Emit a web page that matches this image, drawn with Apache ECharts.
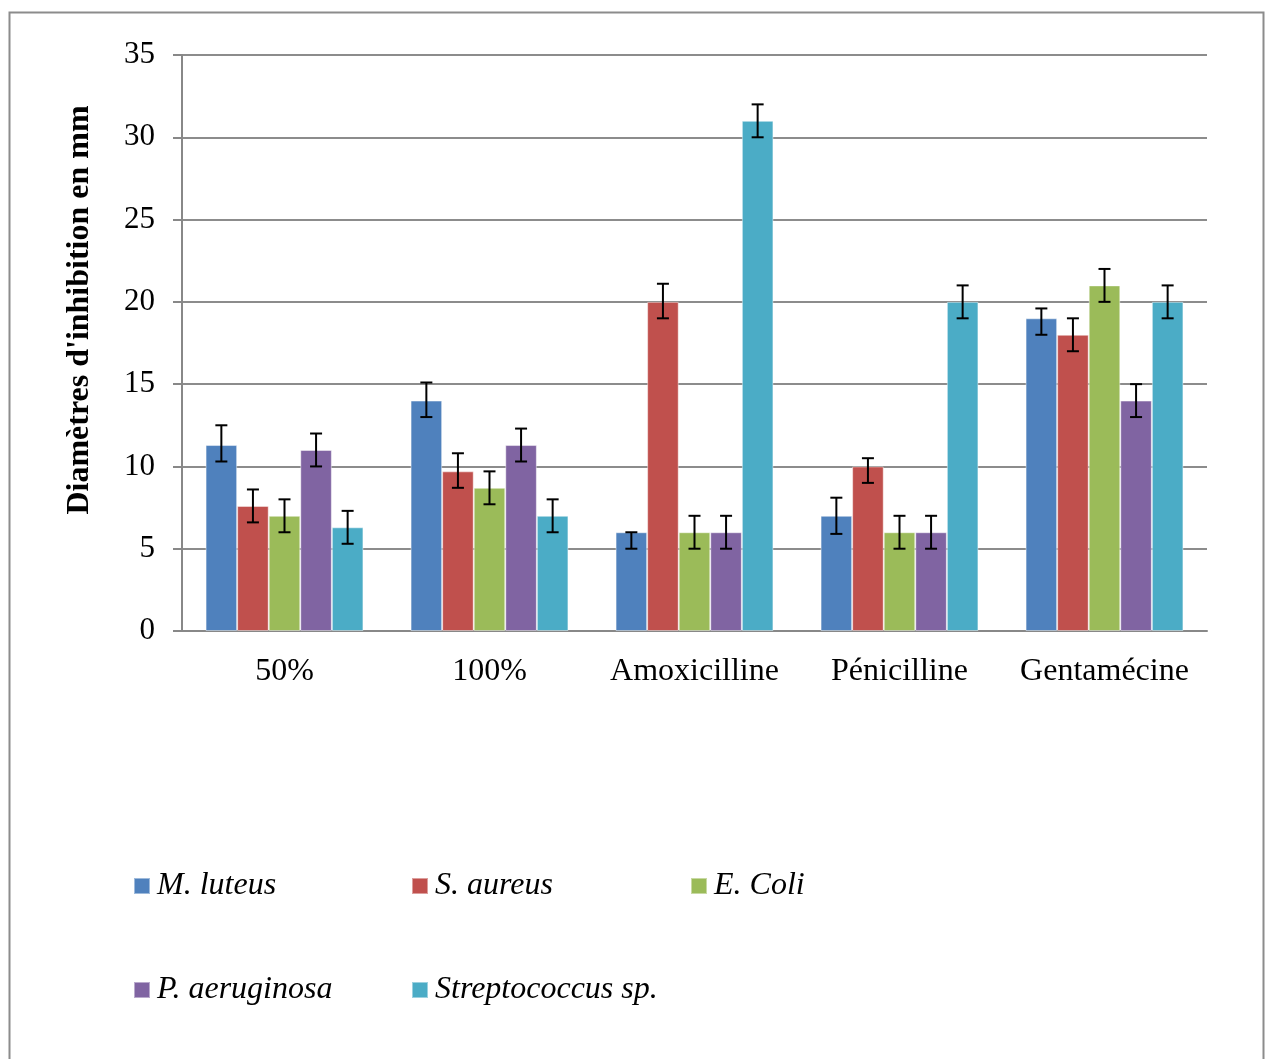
<!DOCTYPE html>
<html>
<head>
<meta charset="utf-8">
<script src="https://cdn.jsdelivr.net/npm/echarts@6/dist/echarts.min.js"></script>
<style>
  html, body { margin: 0; padding: 0; background: #fff; }
  #chart { width: 1265px; height: 1059px; }
</style>
</head>
<body>
<div id="chart"></div>
<script>
// Inhibition diameters (mm) per treatment and bacterial strain
const categories = ['50%', '100%', 'Amoxicilline', 'Pénicilline', 'Gentamécine'];
const seriesNames = ['M. luteus', 'S. aureus', 'E. Coli', 'P. aeruginosa', 'Streptococcus sp.'];

const mLuteus      = [11.3, 14.0, 6.0, 7.0, 19.0];
const sAureus      = [7.6, 9.7, 20.0, 10.0, 18.0];
const eColi        = [7.0, 8.7, 6.0, 6.0, 21.0];
const pAeruginosa  = [11.0, 11.3, 6.0, 6.0, 14.0];
const streptococcus = [6.3, 7.0, 31.0, 20.0, 20.0];

// Error bar extents above / below each mean
const mLuteusErrUp   = [1.2, 1.1, 0.0, 1.1, 0.6];
const mLuteusErrDown = [1.0, 1.0, 1.0, 1.1, 1.0];
const sAureusErrUp   = [1.0, 1.1, 1.1, 0.5, 1.0];
const sAureusErrDown = [1.0, 1.0, 1.0, 1.0, 1.0];
const eColiErrUp     = [1.0, 1.0, 1.0, 1.0, 1.0];
const eColiErrDown   = [1.0, 1.0, 1.0, 1.0, 1.0];
const pAerErrUp      = [1.0, 1.0, 1.0, 1.0, 1.0];
const pAerErrDown    = [1.0, 1.0, 1.0, 1.0, 1.0];
const streptoErrUp   = [1.0, 1.0, 1.0, 1.0, 1.0];
const streptoErrDown = [1.0, 1.0, 1.0, 1.0, 1.0];

const yTicks = [0, 5, 10, 15, 20, 25, 30, 35];

const values = [mLuteus, sAureus, eColi, pAeruginosa, streptococcus];
const errUp = [mLuteusErrUp, sAureusErrUp, eColiErrUp, pAerErrUp, streptoErrUp];
const errDown = [mLuteusErrDown, sAureusErrDown, eColiErrDown, pAerErrDown, streptoErrDown];
const colors = ['#4F81BD', '#C0504D', '#9BBB59', '#8064A2', '#4BACC6'];

const FONT = '"Liberation Serif", "Times New Roman", serif';
const CATEGORY_GAP = 0.23;

const barSeries = values.map((vals, i) => ({
  name: seriesNames[i],
  type: 'bar',
  data: vals,
  barGap: '0%',
  barCategoryGap: (CATEGORY_GAP * 100) + '%',
  itemStyle: { color: colors[i], borderColor: 'rgba(255,255,255,0.45)', borderWidth: 1 },
  emphasis: { disabled: true },
  z: 2
}));

// [categoryIndex, seriesIndex, low, high]
const errData = [];
values.forEach((vals, s) => {
  vals.forEach((v, c) => {
    errData.push([c, s, v - errDown[s][c], v + errUp[s][c]]);
  });
});

const errorSeries = {
  type: 'custom',
  data: errData,
  z: 5,
  silent: true,
  encode: { x: 0, y: [2, 3] },
  renderItem: function (params, api) {
    const c = api.value(0), s = api.value(1);
    const bandW = api.size([1, 0])[0];
    const barW = bandW * (1 - CATEGORY_GAP) / values.length;
    const center = api.coord([c, 0])[0] + (s - (values.length - 1) / 2) * barW;
    const yLow = api.coord([c, api.value(2)])[1];
    const yHigh = api.coord([c, api.value(3)])[1];
    const half = 6;
    const style = { stroke: '#000', lineWidth: 2 };
    return {
      type: 'group',
      children: [
        { type: 'line', shape: { x1: center, y1: yLow, x2: center, y2: yHigh }, style },
        { type: 'line', shape: { x1: center - half, y1: yHigh, x2: center + half, y2: yHigh }, style },
        { type: 'line', shape: { x1: center - half, y1: yLow, x2: center + half, y2: yLow }, style }
      ]
    };
  }
};

// One legend block per strain, laid out in a two-row grid
const legendPos = [
  { left: 133, top: 870 },
  { left: 411, top: 870 },
  { left: 690, top: 870 },
  { left: 133, top: 974 },
  { left: 411, top: 974 }
];
const legends = seriesNames.map((n, i) => ({
  data: [n],
  left: legendPos[i].left,
  top: legendPos[i].top,
  icon: 'rect',
  itemWidth: 16,
  itemHeight: 16,
  itemGap: 0,
  selectedMode: false,
  textStyle: { fontFamily: FONT, fontStyle: 'italic', fontSize: 32, color: '#000', padding: [0, 0, 0, 2] },
  padding: 0
}));

const chart = echarts.init(document.getElementById('chart'), null, { renderer: 'canvas' });
chart.setOption({
  animation: false,
  backgroundColor: '#fff',
  color: colors,
  grid: { left: 182, right: 58, top: 55, bottom: 428, containLabel: false },
  legend: legends,
  xAxis: {
    type: 'category',
    data: categories,
    axisLine: { lineStyle: { color: '#888', width: 2 } },
    axisTick: { show: false },
    axisLabel: { interval: 0, fontFamily: FONT, fontSize: 32, color: '#000', margin: 25 }
  },
  yAxis: {
    type: 'value',
    min: yTicks[0],
    max: yTicks[yTicks.length - 1],
    interval: yTicks[1] - yTicks[0],
    axisLine: { show: true, lineStyle: { color: '#888', width: 2 } },
    axisTick: { show: true, length: 9, lineStyle: { color: '#888', width: 2 } },
    axisLabel: { fontFamily: FONT, fontSize: 31, color: '#000', margin: 27, padding: [6, 0, 0, 0] },
    splitLine: { lineStyle: { color: '#8c8c8c', width: 2 } }
  },
  graphic: [
    {
      type: 'rect',
      shape: { x: 9.5, y: 12.5, width: 1254, height: 1060 },
      style: { fill: 'none', stroke: '#8c8c8c', lineWidth: 2 },
      silent: true, z: -10
    },
    {
      type: 'text',
      x: 80, y: 310,
      rotation: Math.PI / 2,
      style: {
        text: "Diamètres d'inhibition en mm",
        font: 'bold 32px ' + FONT,
        fill: '#000',
        align: 'center',
        verticalAlign: 'middle'
      },
      silent: true
    }
  ],
  series: barSeries.concat([errorSeries])
});
</script>
</body>
</html>
